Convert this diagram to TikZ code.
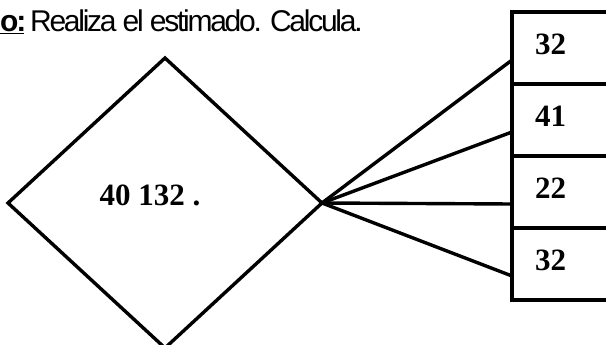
\documentclass[tikz,border=0pt]{standalone}
\usepackage{fontspec}
\setmainfont{Liberation Serif}
\newfontfamily\titulofont[LetterSpace=-7.5]{Liberation Sans}
\usetikzlibrary{shapes.geometric, positioning}

\begin{document}
\begin{tikzpicture}[
    x=1pt, y=-1pt,
    rombo/.style={diamond, draw=black, line width=3.4pt, minimum width=314pt, minimum height=290pt, inner sep=0pt, outer sep=0pt},
    casilla/.style={rectangle, draw=black, line width=3.4pt, minimum height=72pt, text width=80pt, inner xsep=23pt, inner ysep=0pt, text depth=8pt, outer sep=0pt, align=left, font=\fontsize{31}{34}\selectfont\bfseries},
    conector/.style={line width=3.4pt}
]
\useasboundingbox (0,0) rectangle (606,345);
\clip (0,0) rectangle (606,345);

% Consigna
\node[anchor=base west, inner sep=0pt, font=\titulofont\fontsize{30}{34}\selectfont] (consigna) at (0,32) {\underline{\textbf{o:}} Realiza el estimado. Calcula.};

% Rombo con la cantidad
\node[rombo] (rombo) at (165,203) {};
\node[font=\fontsize{31}{34}\selectfont\bfseries, inner sep=0pt] (cantidad) at (150,195) {40 132 .};

% Casillas de respuesta
\node[casilla, anchor=north west] (b1) at (512,12) {32};
\node[casilla, below=0pt of b1] (b2) {41};
\node[casilla, below=0pt of b2] (b3) {22};
\node[casilla, below=0pt of b3] (b4) {32};

% Conectores
\foreach \b in {b1,b2,b3,b4}
    \draw[conector] (rombo.east) -- ([yshift=-12pt]\b.west);

\end{tikzpicture}
\end{document}
